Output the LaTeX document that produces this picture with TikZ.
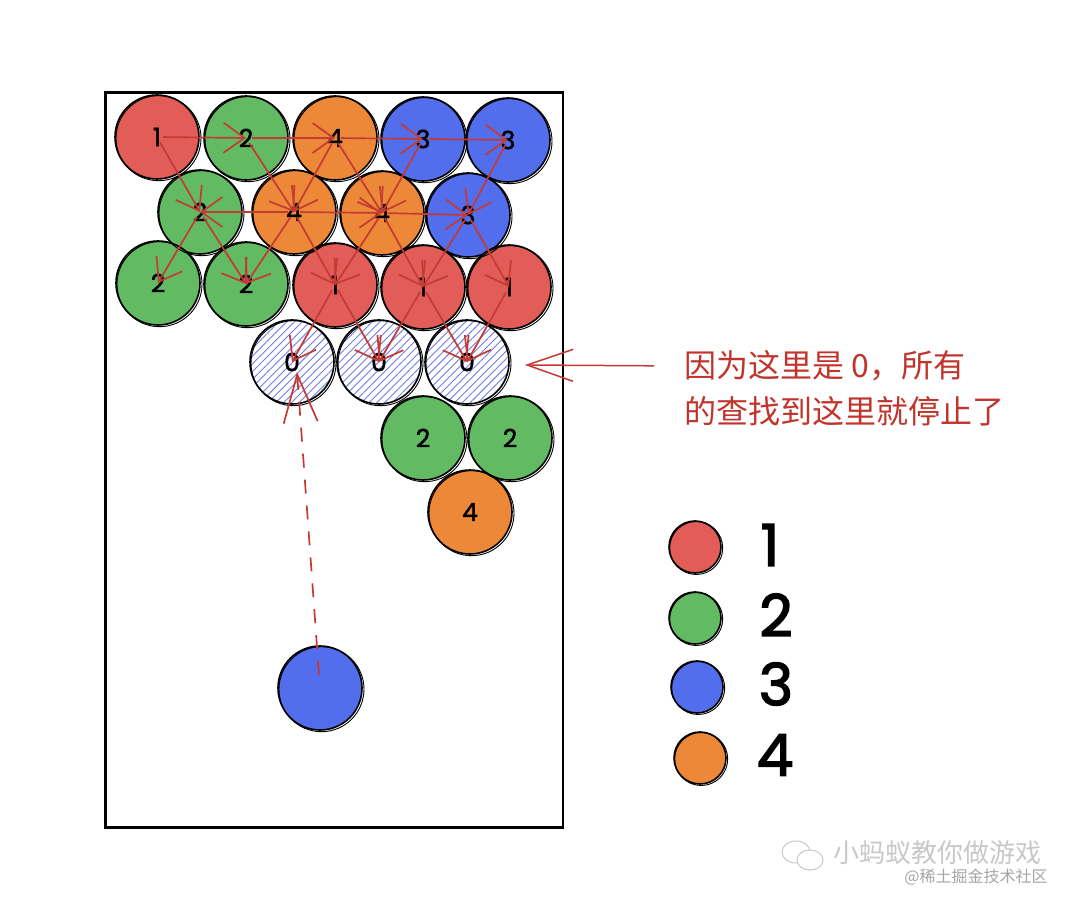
\documentclass[tikz,border=0pt]{standalone}
\usepackage{fontspec}
\setmainfont{Poppins}
\newfontfamily\popfat{Poppins}[FakeBold=2.5]
\newfontfamily\popmid{Poppins}[FakeBold=1.8]
\newfontfamily\cjk{Noto Sans CJK SC}
\usetikzlibrary{arrows.meta,patterns.meta}
\definecolor{cred}{RGB}{226,92,88}
\definecolor{cgreen}{RGB}{98,186,98}
\definecolor{corange}{RGB}{236,136,56}
\definecolor{cblue}{RGB}{82,110,236}
\definecolor{hatch}{RGB}{112,124,228}
\definecolor{arr}{RGB}{196,58,52}
\definecolor{txt}{RGB}{192,52,44}
\definecolor{wmA}{RGB}{200,200,200}
\definecolor{wmB}{RGB}{165,165,165}
\begin{document}
\begin{tikzpicture}[x=1pt,y=-1pt,
  ball/.style={circle,draw=black,line width=1.6pt,minimum size=84pt,inner sep=0pt,
    font=\popmid\fontsize{25}{25}\selectfont},
  zero/.style={ball,preaction={fill=white},
    pattern={Lines[angle=45,distance=5.5pt,line width=0.9pt]},pattern color=hatch},
  leg/.style={circle,draw=black,line width=1.6pt,minimum size=52pt,inner sep=0pt},
  legtxt/.style={font=\popfat\fontsize{58}{58}\selectfont,inner sep=0pt},
  note/.style={font=\cjk\fontsize{32}{32}\selectfont,text=txt,inner sep=0pt,anchor=west},
  link/.style={draw=arr,line width=1.7pt,shorten <=6pt,
    -{Straight Barb[length=21pt,width=30pt]}},
]
\useasboundingbox (0,0) rectangle (1080,904);
% frame
\draw[line width=2pt] (105,92) rectangle (563,828);
\draw[line width=0.7pt] (106,93.5) rectangle (562,826.5);
% row 1
\node[ball,fill=cred]    (a1) at (157,137) {1};
\node[ball,fill=cgreen]  (a2) at (246,138) {2};
\node[ball,fill=corange] (a3) at (335,138) {4};
\node[ball,fill=cblue]   (a4) at (423,139) {3};
\node[ball,fill=cblue]   (a5) at (508,140) {3};
% row 2
\node[ball,fill=cgreen]  (b1) at (200,212) {2};
\node[ball,fill=corange] (b2) at (294,212) {4};
\node[ball,fill=corange] (b3) at (382,213) {4};
\node[ball,fill=cblue]   (b4) at (468,215) {3};
% row 3
\node[ball,fill=cgreen]  (c1) at (158,283) {2};
\node[ball,fill=cgreen]  (c2) at (246,284) {2};
\node[ball,fill=cred]    (c3) at (335,285) {1};
\node[ball,fill=cred]    (c4) at (423,287) {1};
\node[ball,fill=cred]    (c5) at (509,287) {1};
% zeros
\node[zero] (z1) at (292,362) {0};
\node[zero] (z2) at (379,362) {0};
\node[zero] (z3) at (467,362) {0};
% lower
\node[ball,fill=cgreen]  (d1) at (423,438) {2};
\node[ball,fill=cgreen]  (d2) at (510,438) {2};
\node[ball,fill=corange] (e1) at (470,512) {4};
% shooter
\node[ball,fill=cblue] (s) at (320,688) {};
% legend
\node[leg,fill=cred]    (l1) at (695,547) {};
\node[leg,fill=cgreen]  (l2) at (695,618) {};
\node[leg,fill=cblue]   (l3) at (697,687) {};
\node[leg,fill=corange] (l4) at (700,758) {};
\node[legtxt] (t1) at (770,545) {1};
\node[legtxt] (t2) at (776,615) {2};
\node[legtxt] (t3) at (776,684) {3};
\node[legtxt] (t4) at (775,755) {4};
% sketchy second outlines
\foreach \n in {a1,a2,a3,a4,a5,b1,b2,b3,b4,c1,c2,c3,c4,c5,z1,z2,z3,d1,d2,e1,s}
  \draw[line width=0.9pt] ([shift={(1.5,1.2)}]\n.center) circle[radius=42.5pt];
\foreach \n in {l1,l2,l3,l4}
  \draw[line width=0.9pt] ([shift={(1.2,1)}]\n.center) circle[radius=26.5pt];
% search arrows
\foreach \p/\q in {a1/a2,a1/b1,a2/a3,a2/b2,a3/a4,a3/b2,a3/b3,a4/a5,a4/b3,a5/b4,
  b2/b1,b2/b3,b3/b4,b1/c1,b1/c2,b2/c2,b2/c3,b3/c3,b3/c4,b4/c4,b4/c5,
  c3/z1,c3/z2,c4/z2,c4/z3,c5/z3}
  \draw[link] (\p.center) -- (\q.center);
% shot path
\draw[draw=arr,line width=1.7pt,dash pattern=on 14pt off 12pt,shorten <=13pt,
  -{Straight Barb[length=48pt,width=34pt]}] (s.center) -- ([shift={(5,10)}]z1.center);
% note
\node[note] (note1) at (684,366) {因为这里是 0，所有};
\node[note] (note2) at (684,411) {的查找到这里就停止了};
\draw[draw=arr,line width=1.5pt,shorten <=30pt,
  -{Straight Barb[length=46pt,width=32pt]}] (note1.west) -- ([shift={(15,3)}]z3.east);
% watermark
\draw[wmA,line width=1pt] (796,852) ellipse[x radius=14pt,y radius=11pt];
\draw[wmA,line width=1pt,fill=white] (810,860) ellipse[x radius=13pt,y radius=10pt];
\node[font=\cjk\fontsize{26}{26}\selectfont,text=wmA,inner sep=0pt] (wm1) at (937,853) {小蚂蚁教你做游戏};
\node[font=\cjk\fontsize{16}{16}\selectfont,text=wmB,inner sep=0pt] (wm2) at (976,877) {@稀土掘金技术社区};
\end{tikzpicture}
\end{document}
